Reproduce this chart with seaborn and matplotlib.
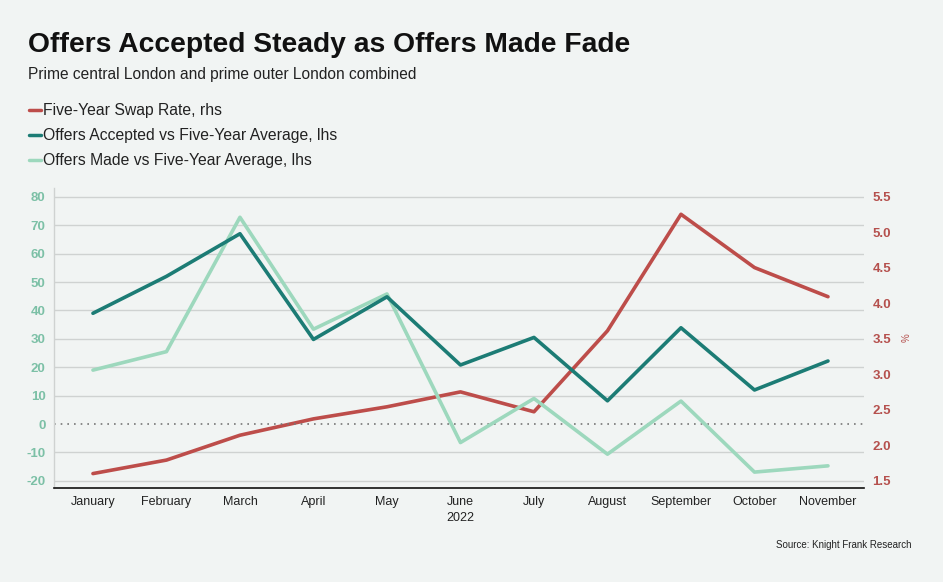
import matplotlib
matplotlib.use("Agg")
import matplotlib.pyplot as plt
import seaborn as sns
import pandas as pd
from matplotlib.lines import Line2D

months = ['January', 'February', 'March', 'April', 'May', 'June', 'July',
          'August', 'September', 'October', 'November']
offers_accepted = [39, 52, 67, 29.8, 44.8, 20.8, 30.5, 8.2, 33.9, 12, 22.2]
offers_made = [19, 25.5, 72.8, 33.4, 45.8, -6.5, 9, -10.6, 8.1, -16.9, -14.7]
swap_rate = [1.60, 1.79, 2.14, 2.37, 2.54, 2.75, 2.47, 3.61, 5.25, 4.50, 4.09]

left_ticks = [-20, -10, 0, 10, 20, 30, 40, 50, 60, 70, 80]
right_ticks = [1.5, 2.0, 2.5, 3.0, 3.5, 4.0, 4.5, 5.0, 5.5]

bg = '#f1f4f3'
red = '#bd4d4a'
dark = '#1c7c75'
light = '#9dd8bd'

sns.set_theme(style='white')
plt.rcParams['font.family'] = ['Liberation Sans', 'DejaVu Sans']

df = pd.DataFrame({'month': months, 'pos': range(len(months)),
                   'accepted': offers_accepted, 'made': offers_made,
                   'swap': swap_rate})

fig = plt.figure(figsize=(9.43, 5.82), dpi=100, facecolor=bg)
ax = fig.add_axes([54 / 943, 94 / 582, 810 / 943, 300 / 582])
ax.set_facecolor(bg)
ax2 = ax.twinx()

ax.set_zorder(2)
ax.patch.set_visible(False)

sns.lineplot(data=df, x='pos', y='made', ax=ax, color=light, lw=2.6)
sns.lineplot(data=df, x='pos', y='accepted', ax=ax, color=dark, lw=2.6)
sns.lineplot(data=df, x='pos', y='swap', ax=ax2, color=red, lw=2.6)

ax.set_xlim(-0.53, 10.49)
ax.set_ylim(-22.5, 83.1)
ax2.set_ylim(1.397, 5.62)

# gridlines drawn on back axis
lo, hi = ax.get_ylim()
lo2, hi2 = ax2.get_ylim()
for t in left_ticks:
    if t == 0:
        ax.axhline(0, color='#777777', lw=1.2, ls=(0, (1, 3)), zorder=0)
    else:
        ax2.axhline(lo2 + (t - lo) / (hi - lo) * (hi2 - lo2),
                    color='#cfd2d1', lw=1, zorder=0)

ax.set_yticks(left_ticks)
ax.set_yticklabels([str(t) for t in left_ticks], color='#7cc0a6',
                   fontsize=9.5, fontweight='bold')
ax2.set_yticks(right_ticks)
ax2.set_yticklabels([f'{t:.1f}' for t in right_ticks], color='#b5504d',
                    fontsize=9.5, fontweight='bold')
ax.set_xticks(range(len(months)))
ax.set_xticklabels(months, fontsize=9, color='#222222')
ax.tick_params(axis='both', length=0, pad=6)
ax2.tick_params(axis='both', length=0, pad=6)
ax.set_xlabel('')
ax.set_ylabel('')
ax2.set_xlabel('')
ax2.set_ylabel('%', color='#b5504d', fontsize=7, labelpad=8)

for a in (ax, ax2):
    for s in ('top', 'right'):
        a.spines[s].set_visible(False)
ax2.spines['left'].set_visible(False)
ax2.spines['bottom'].set_visible(False)
ax.spines['left'].set_color('#cfd2d1')
ax.spines['left'].set_linewidth(1)
ax.spines['bottom'].set_color('#111111')
ax.spines['bottom'].set_linewidth(1.2)

ax.text(5, -0.1, '2022', transform=ax.get_xaxis_transform(),
        ha='center', va='center', fontsize=9, color='#222222')

fig.text(28 / 943, 1 - 45 / 582, 'Offers Accepted Steady as Offers Made Fade',
         fontsize=20.3, fontweight='bold', color='#111111', va='center')
fig.text(28 / 943, 1 - 75 / 582, 'Prime central London and prime outer London combined',
         fontsize=11.2, color='#222222', va='center')

legend_items = [('Five-Year Swap Rate, rhs', red),
                ('Offers Accepted vs Five-Year Average, lhs', dark),
                ('Offers Made vs Five-Year Average, lhs', light)]
for i, (lab, col) in enumerate(legend_items):
    y = 1 - (110 + 25 * i) / 582
    fig.add_artist(Line2D([29 / 943, 41 / 943], [y, y], color=col, lw=2.5,
                          transform=fig.transFigure))
    fig.text(43 / 943, y, lab, fontsize=11.3, color='#222222', va='center')

fig.text(911 / 943, 1 - 545 / 582, 'Source: Knight Frank Research',
         fontsize=7, color='#222222', ha='right', va='center')

fig.savefig('out.png', dpi=100, facecolor=bg)
